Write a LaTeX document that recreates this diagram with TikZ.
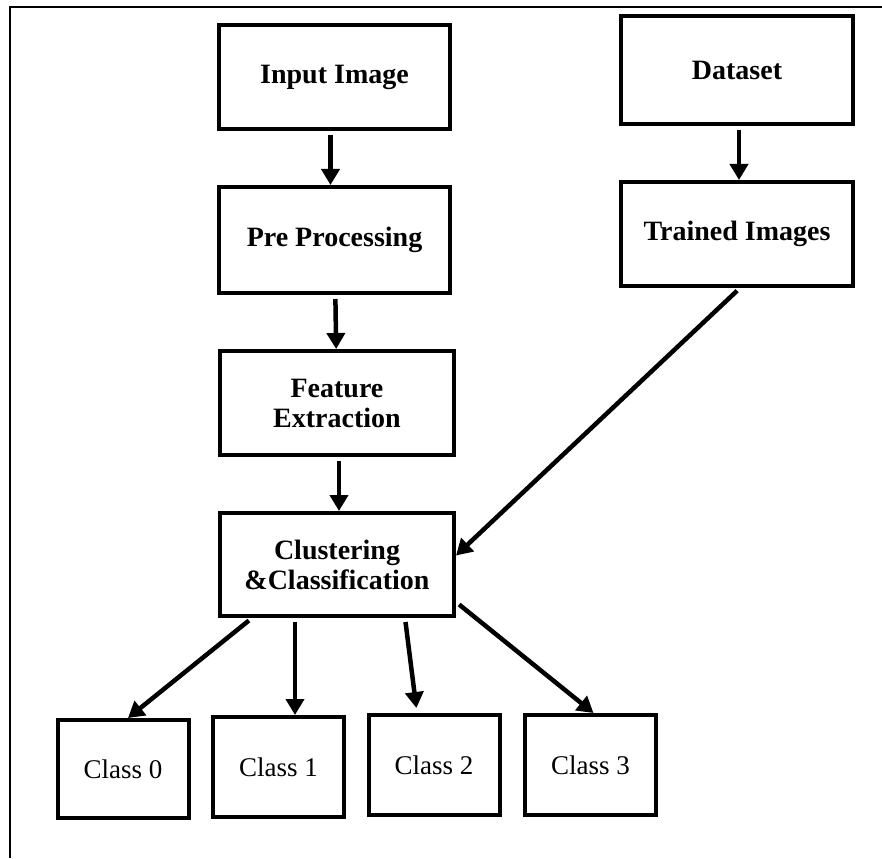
\documentclass[tikz,border=0pt]{standalone}
\usepackage{fontspec}
\setmainfont{Liberation Serif}
\usetikzlibrary{arrows.meta,positioning}

\begin{document}
\begin{tikzpicture}[x=1pt,y=-1pt,
	kasten/.style={draw,line width=4pt,inner sep=2pt,align=center,
		font=\fontsize{28}{30}\selectfont\bfseries},
	klasse/.style={draw,line width=4pt,inner sep=2pt,minimum width=131pt,minimum height=98pt,
		font=\fontsize{27}{29}\selectfont},
	pfeil/.style={-{Triangle[length=16pt,width=18pt]},line width=4.5pt,shorten <=4pt}]
	\useasboundingbox (0,0) rectangle (882,858);
	% Rahmen
		\draw[line width=1.5pt] (882,7) -- (10,7) -- (10,858);
	% Kaesten
		\node (1) at (334.5,77) [kasten,minimum width=231pt,minimum height=104pt] {Input Image};
		\node (2) at (334.5,240) [kasten,minimum width=231pt,minimum height=106pt] {Pre Processing};
		\node (3) at (337,403) [kasten,minimum width=234pt,minimum height=104pt] {Feature\\Extraction};
		\node (4) at (337,564.5) [kasten,minimum width=234pt,minimum height=103pt] {Clustering\\\&Classification};
		\node (5) at (737,70) [kasten,minimum width=232pt,minimum height=108pt] {Dataset};
		\node (6) at (737,234) [kasten,minimum width=232pt,minimum height=104pt] {Trained Images};
		\node (7) at (123,769) [klasse] {Class 0};
		\node (8) at (278.5,767) [klasse,minimum height=100pt] {Class 1};
		\node (9) at (434,765) [klasse,minimum height=100pt] {Class 2};
		\node (10) at (590.5,765) [klasse,minimum height=100pt] {Class 3};
	% Pfeile
		\draw[pfeil] ([xshift=-4pt]1.south) -- ([xshift=-4pt]2.north);
		\draw[pfeil] (2) -- (3);
		\draw[pfeil] ([xshift=2pt]3.south) -- ([xshift=2pt]4.north);
		\draw[pfeil] ([xshift=2pt]5.south) -- ([xshift=2pt]6.north);
		\draw[pfeil] ([xshift=3pt]6.south) -- ([yshift=9pt]4.east);
		\draw[pfeil] ([xshift=-85pt]4.south) -- ([xshift=5pt]7.north);
		\draw[pfeil] ([xshift=-42pt]4.south) -- ([xshift=16.5pt]8.north);
		\draw[pfeil,shorten >=5pt] ([xshift=68pt]4.south) -- ([xshift=-17pt]9.north);
		\draw[pfeil] ([yshift=16pt]4.south east) -- ([xshift=3pt]10.north);
\end{tikzpicture}
\end{document}
